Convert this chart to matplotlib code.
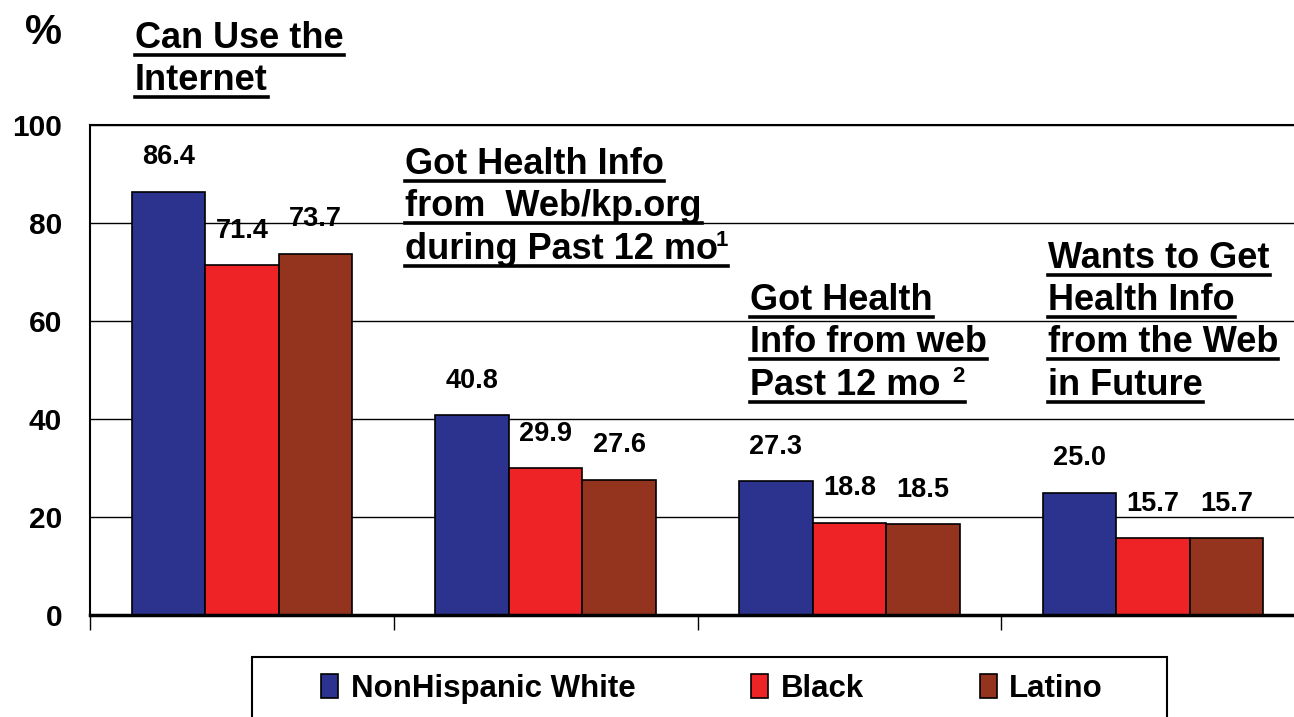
import matplotlib
matplotlib.use('Agg')
import matplotlib.pyplot as plt
from matplotlib.patches import Patch, Rectangle
from matplotlib.lines import Line2D
import numpy as np

# survey results, percent of respondents
groups = ['Can Use the Internet', 'Got Health Info from Web/kp.org',
          'Got Health Info from web', 'Wants to Get Health Info']
white = [86.4, 40.8, 27.3, 25.0]
black = [71.4, 29.9, 18.8, 15.7]
latino = [73.7, 27.6, 18.5, 15.7]
series_names = ['NonHispanic White', 'Black', 'Latino']
colors = ['#2c338e', '#ee2325', '#94341f']

# heading lines for every group (text is underlined), footnote marks apart
titles = [
    ['Can Use the', 'Internet'],
    ['Got Health Info', 'from  Web/kp.org', 'during Past 12 mo'],
    ['Got Health', 'Info from web', 'Past 12 mo'],
    ['Wants to Get', 'Health Info', 'from the Web', 'in Future'],
]
notes = [None, '1', '2', None]
title_x = [135, 405, 750, 1048]
title_y = [[48, 90], [174, 216, 259], [310, 352, 395], [268, 310, 352, 395]]

W, H = 1294, 717
fnt = 'Liberation Sans'
plt.rcParams['font.family'] = [fnt, 'DejaVu Sans']
plt.rcParams['font.weight'] = 'bold'

fig = plt.figure(figsize=(W / 100, H / 100), dpi=100)
ax = fig.add_axes([90 / W, 1 - 615 / H, 1215 / W, 490 / H])

x = np.arange(len(groups))
bw = 0.242
for i, (vals, c) in enumerate(zip([white, black, latino], colors)):
    pos = x + (i - 1) * bw
    ax.bar(pos, vals, bw, color=c, edgecolor='black', linewidth=1.2, zorder=3)
    for p, v in zip(pos, vals):
        ax.annotate(f'{v:.1f}', (p, v), xytext=(0, 15.5), textcoords='offset points',
                    ha='center', va='bottom', fontsize=19.5, fontweight='bold')

ax.set_xlim(-0.5, 3.5)
ax.set_ylim(0, 100)
ax.set_yticks(range(0, 101, 20))
ax.yaxis.grid(True, color='black', linewidth=1.0, zorder=0)
ax.set_xticks([-0.5, 0.5, 1.5, 2.5])
ax.set_xticklabels([])
ax.tick_params(axis='x', length=11, width=1.0, direction='out')
ax.tick_params(axis='y', length=0, pad=20, labelsize=21.5)
for lab in ax.get_yticklabels():
    lab.set_fontweight('bold')
ax.spines['right'].set_visible(False)
ax.spines['top'].set_linewidth(1.5)
ax.spines['left'].set_linewidth(1.5)
ax.spines['bottom'].set_linewidth(2.5)
ax.spines['bottom'].set_zorder(4)

fig.text(44 / W, 1 - 33 / H, '%', fontsize=30, fontweight='bold',
         ha='center', va='center')

# headings with hand drawn underline
heads = []
for lines, tx, tys, note in zip(titles, title_x, title_y, notes):
    for k, (line, ty) in enumerate(zip(lines, tys)):
        t = fig.text(tx / W, 1 - ty / H, line, fontsize=26, fontweight='bold',
                     ha='left', va='baseline')
        heads.append((t, ty, note if k == len(lines) - 1 else None))

fig.canvas.draw()
rend = fig.canvas.get_renderer()
for t, ty, note in heads:
    bb = t.get_window_extent(rend)
    x1 = bb.x1
    if note:
        gap = -2 if note == '1' else 12
        s = fig.text((bb.x1 + gap) / W, 1 - (ty - 13) / H, note, fontsize=16,
                     fontweight='bold', ha='left', va='baseline')
        x1 = s.get_window_extent(rend).x1
    uy = 1 - (ty + 7) / H
    fig.add_artist(Line2D([bb.x0 / W, x1 / W], [uy, uy], color='black',
                          linewidth=2.6, transform=fig.transFigure))

# legend in a box running off the bottom edge
handles = [Patch(facecolor=c, edgecolor='black', linewidth=1.2) for c in colors]
fig.legend(handles, series_names, loc='center', bbox_to_anchor=(712 / W, 1 - 689 / H),
           ncol=3, frameon=False, prop={'family': fnt, 'weight': 'bold', 'size': 22.5},
           handlelength=0.55, handleheight=0.8, handletextpad=0.4, columnspacing=3.7)
fig.add_artist(Rectangle((252 / W, -0.1), (1167 - 252) / W, 0.1 + 1 - 657 / H,
                         transform=fig.transFigure, fill=False, edgecolor='black',
                         linewidth=1.5))

fig.savefig('out.png', dpi=100)
